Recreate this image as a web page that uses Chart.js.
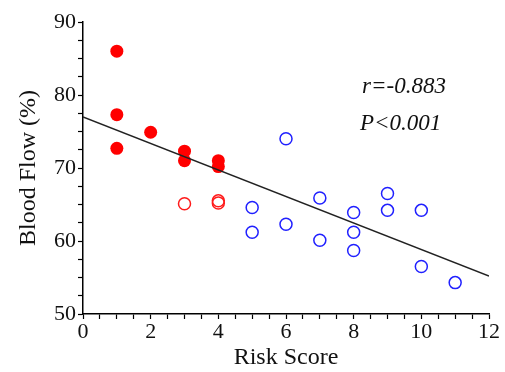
<!DOCTYPE html>
<html>
<head>
<meta charset="utf-8">
<script src="https://cdn.jsdelivr.net/npm/chart.js@4"></script>
<style>
  html, body { margin: 0; padding: 0; background: #fff; }
  #wrap { width: 505px; height: 372px; }
</style>
</head>
<body>
<div id="wrap"><canvas id="chart"></canvas></div>
<script>
// data
var riskFilled = [1, 1, 1, 2, 3, 3, 4, 4];
var flowFilled = [86, 77.3, 72.7, 74.9, 72.3, 71.0, 71.0, 70.2];

var riskRedOpen = [3, 4, 4];
var flowRedOpen = [65.1, 65.2, 65.5];

var riskBlue = [5, 5, 6, 6, 7, 7, 8, 8, 8, 9, 9, 10, 10, 11];
var flowBlue = [64.6, 61.2, 74.0, 62.3, 65.9, 60.1, 63.9, 61.2, 58.7, 66.5, 64.2, 64.2, 56.5, 54.3];

var fitX = [0, 12];
var fitY = [77.0, 55.2];

var xLabels = [0, 2, 4, 6, 8, 10, 12];
var yLabels = [50, 60, 70, 80, 90];

function pts(xs, ys) {
  return xs.map(function (x, i) { return { x: x, y: ys[i] }; });
}

var serif = '"Liberation Serif", "Times New Roman", serif';

var statsText = {
  id: 'statsText',
  afterDraw: function (chart) {
    var ctx = chart.ctx;
    ctx.save();
    ctx.fillStyle = '#111';
    ctx.font = 'italic 23px ' + serif;
    ctx.textBaseline = 'middle';
    ctx.fillText('r=-0.883', 362, 87);
    ctx.fillText('P<0.001', 360, 124);
    ctx.restore();
  }
};

new Chart(document.getElementById('chart').getContext('2d'), {
  type: 'scatter',
  data: {
    datasets: [
      {
        type: 'line',
        data: pts(fitX, fitY),
        borderColor: '#222',
        borderWidth: 1.5,
        pointRadius: 0,
        fill: false
      },
      {
        data: pts(riskRedOpen, flowRedOpen),
        pointRadius: 6,
        pointBorderWidth: 1.5,
        borderColor: '#ff1a1a',
        backgroundColor: 'rgba(255,255,255,0)'
      },
      {
        data: pts(riskBlue, flowBlue),
        pointRadius: 6,
        pointBorderWidth: 1.5,
        borderColor: '#2020ff',
        backgroundColor: 'rgba(255,255,255,0)'
      },
      {
        data: pts(riskFilled, flowFilled),
        pointRadius: 6.5,
        pointBorderWidth: 0,
        borderColor: '#ff0000',
        backgroundColor: '#ff0000'
      }
    ]
  },
  options: {
    responsive: true,
    maintainAspectRatio: false,
    animation: false,
    layout: { padding: { top: 22, right: 16, left: 14, bottom: 0 } },
    plugins: {
      legend: { display: false },
      tooltip: { enabled: false }
    },
    scales: {
      x: {
        type: 'linear',
        min: 0,
        max: 12,
        border: { display: true, color: '#000', width: 1.5 },
        grid: { drawOnChartArea: false, drawTicks: true, tickLength: 5, tickColor: '#000', tickWidth: 1.2 },
        ticks: {
          stepSize: 0.5,
          autoSkip: false,
          maxRotation: 0,
          padding: 0,
          color: '#111',
          font: { family: serif, size: 22 },
          callback: function (v) { return xLabels.indexOf(v) >= 0 ? String(v) : ''; }
        },
        title: {
          display: true,
          text: 'Risk Score',
          color: '#111',
          font: { family: serif, size: 24 },
          padding: { top: 4, bottom: 0 }
        },
        afterFit: function (s) { s.height = 58; }
      },
      y: {
        min: 50,
        max: 90,
        border: { display: true, color: '#000', width: 1.5 },
        grid: { drawOnChartArea: false, drawTicks: true, tickLength: 5, tickColor: '#000', tickWidth: 1.2 },
        ticks: {
          stepSize: 2.5,
          autoSkip: false,
          padding: 2,
          color: '#111',
          font: { family: serif, size: 22 },
          callback: function (v) { return yLabels.indexOf(v) >= 0 ? String(v) : ''; }
        },
        title: {
          display: true,
          text: 'Blood Flow (%)',
          color: '#111',
          font: { family: serif, size: 24 },
          padding: { top: 0, bottom: 0 }
        },
        afterFit: function (s) { s.width = 69; }
      }
    }
  },
  plugins: [statsText]
});
</script>
</body>
</html>
